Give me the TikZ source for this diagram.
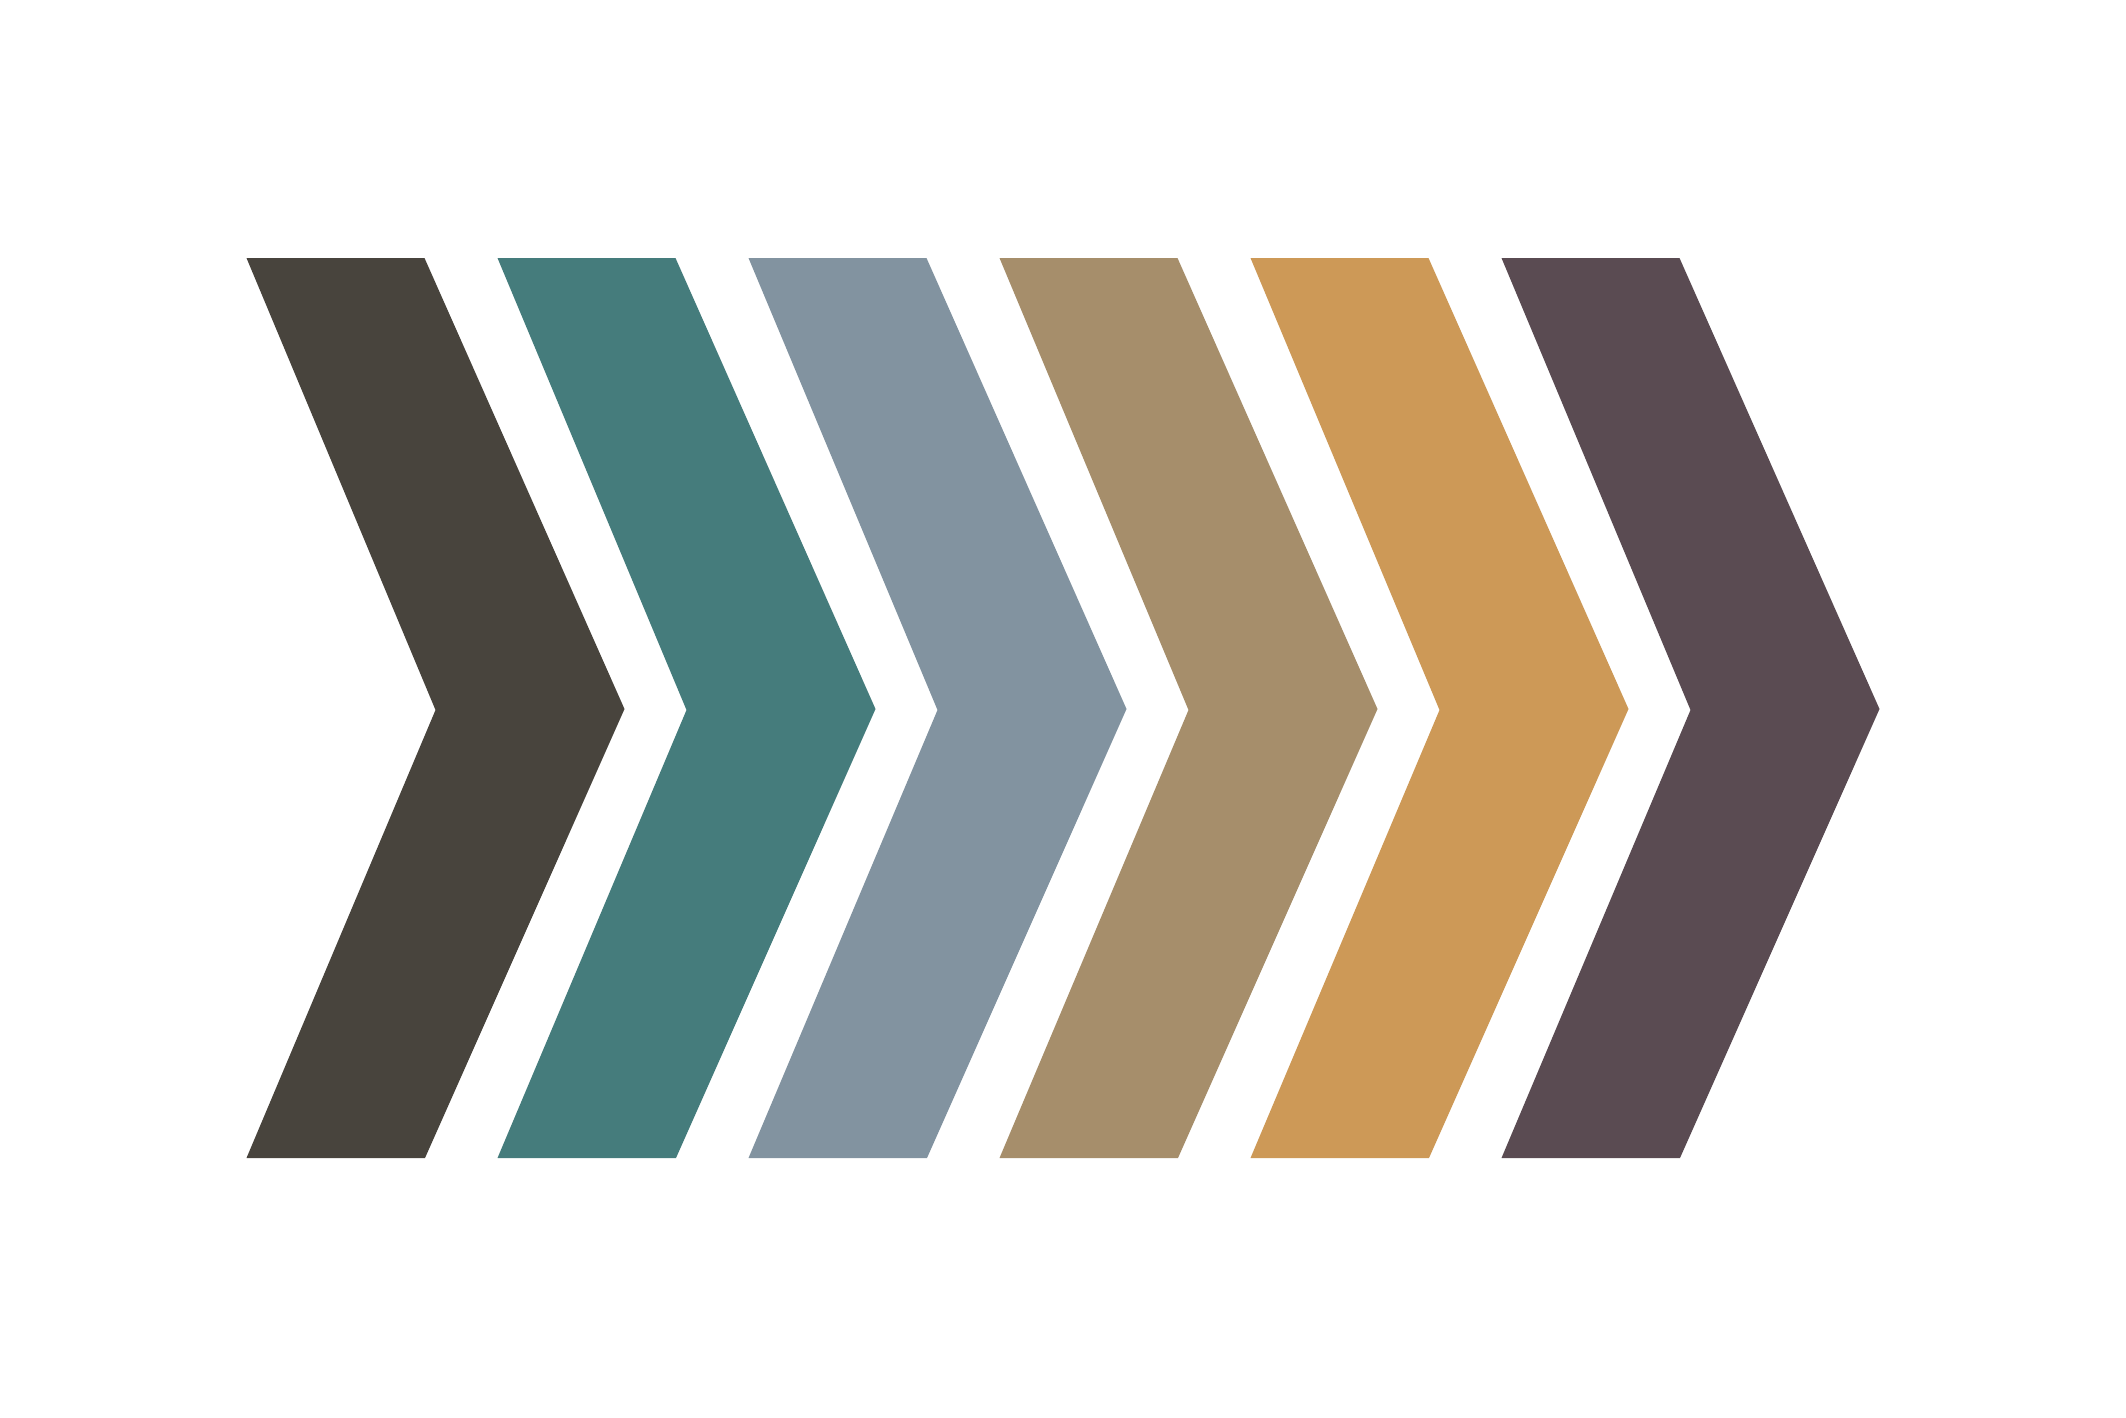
\documentclass[tikz,border=0pt]{standalone}
\definecolor{cA}{HTML}{48443D}
\definecolor{cB}{HTML}{457C7C}
\definecolor{cC}{HTML}{8293A0}
\definecolor{cD}{HTML}{A68E6B}
\definecolor{cE}{HTML}{CD9957}
\definecolor{cF}{HTML}{5A4B52}
\tikzset{chevron/.style={fill=#1, draw=none}}
\begin{document}
\begin{tikzpicture}[x=0.01cm,y=-0.01cm]
\useasboundingbox (0,0) rectangle (2126,1417);
\fill[white] (0,0) rectangle (2126,1417);
\foreach \L/\c in {246.5/cA, 497.5/cB, 748.5/cC, 999.5/cD, 1250.5/cE, 1501.5/cF}{
  \path[chevron=\c] (\L,258) -- (\L+178,258) -- (\L+378,709) -- (\L+178.5,1158) -- (\L,1158) -- (\L+189,710) -- cycle;
}
\end{tikzpicture}
\end{document}
